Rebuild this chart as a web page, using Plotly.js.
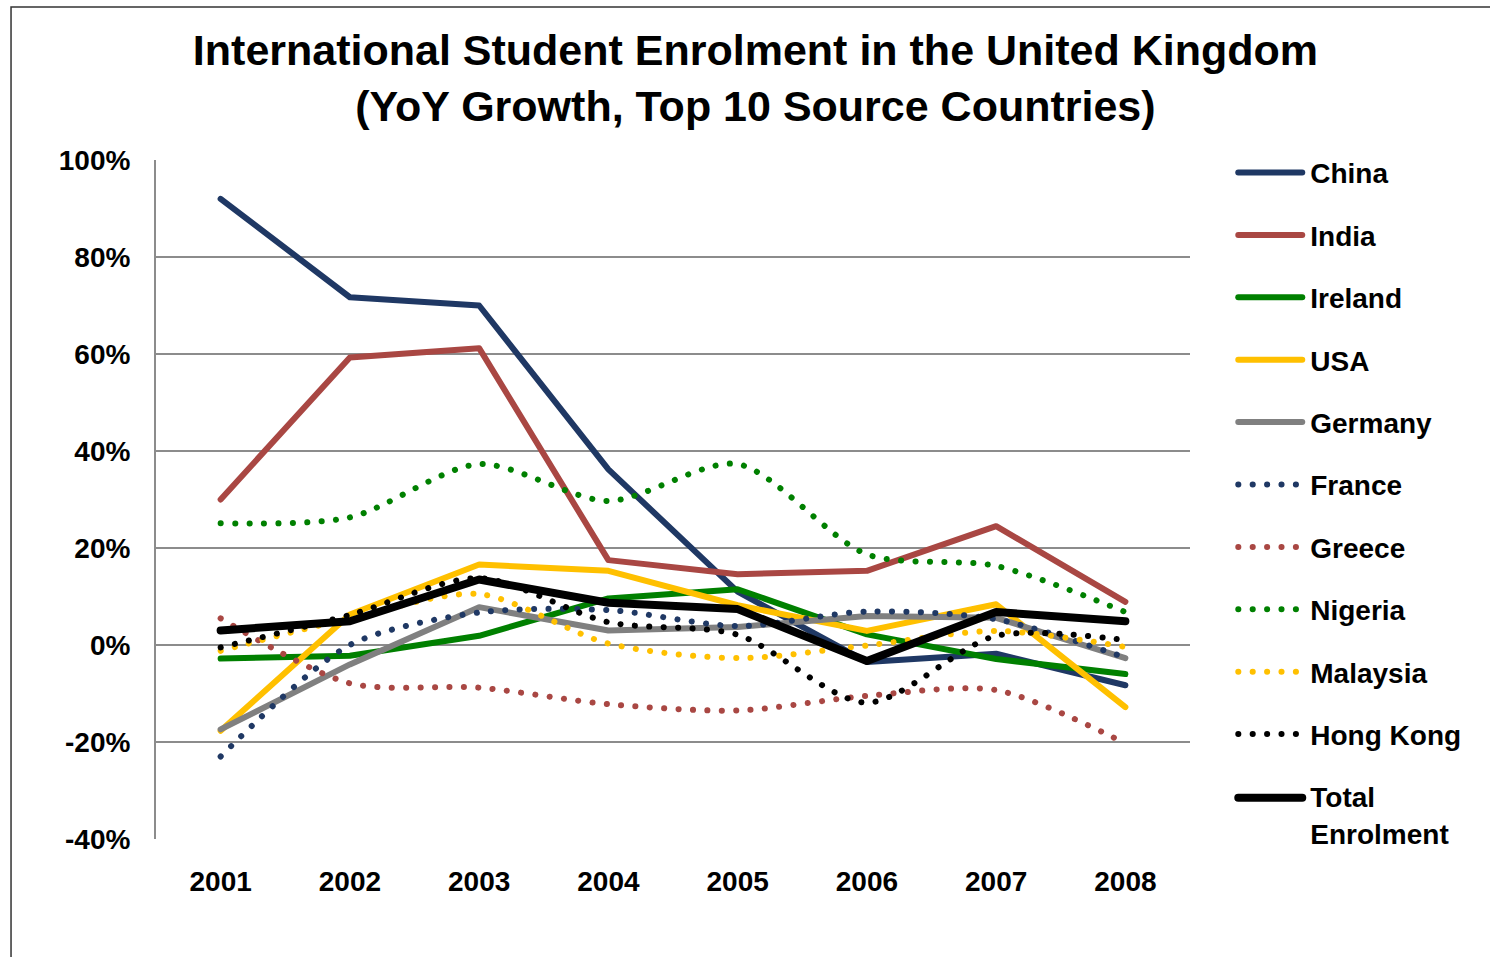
<!DOCTYPE html>
<html>
<head>
<meta charset="utf-8">
<script src="https://cdn.plot.ly/plotly-3.0.1.min.js"></script>
<style>
  html, body { margin: 0; padding: 0; background: #ffffff; }
  #chart { width: 1490px; height: 957px; }
  .js-line { stroke-linecap: round !important; stroke-linejoin: round !important; }
</style>
</head>
<body>
<div id="chart"></div>
<script>
const years = ['2001', '2002', '2003', '2004', '2005', '2006', '2007', '2008'];

const china    = [92.0, 71.7, 70.0, 36.2, 11.0, -3.5, -1.8, -8.3];
const india    = [30.0, 59.3, 61.2, 17.5, 14.6, 15.3, 24.5, 8.9];
const ireland  = [-2.8, -2.2, 1.9, 9.6, 11.5, 2.2, -2.9, -6.0];
const usa      = [-17.7, 6.3, 16.6, 15.3, 8.2, 2.9, 8.4, -12.8];
const germany  = [-17.4, -4.0, 7.8, 3.0, 3.7, 6.0, 5.6, -2.7];
const france   = [-23.0, 0.0, 6.7, 7.2, 3.9, 6.9, 5.3, -2.6];
const greece   = [5.5, -7.9, -8.8, -12.2, -13.5, -10.5, -9.3, -20.3];
const nigeria  = [25.1, 26.3, 37.3, 29.7, 37.3, 18.7, 16.3, 6.8];
const malaysia = [-1.2, 5.5, 10.5, 0.3, -2.7, -0.1, 2.9, -0.4];
const hongkong = [-0.5, 6.2, 13.8, 4.7, 2.1, -11.9, 1.9, 1.0];
const total    = [3.0, 4.9, 13.5, 8.7, 7.4, -3.3, 6.8, 4.9];

const yTickVals = [-40, -20, 0, 20, 40, 60, 80, 100];
const yTickText = ['-40%', '-20%', '0%', '20%', '40%', '60%', '80%', '100%'];

const NAVY = '#1F3864', RED = '#A94743', GREEN = '#008000', GOLD = '#FFC000', GREY = '#808080', BLACK = '#000000';
const DOT = '0.1px,14.3px';

function solid(name, y, color, width) {
  return { type: 'scatter', mode: 'lines', name: name, x: years, y: y, legendgroup: name,
           line: { color: color, width: width || 6, shape: 'linear' }, hoverinfo: 'x+y+name' };
}
function dotted(name, y, color) {
  return { type: 'scatter', mode: 'lines', name: name, x: years, y: y, legendgroup: name,
           line: { color: color, width: 6, dash: DOT, shape: 'spline', smoothing: 0.8 }, hoverinfo: 'x+y+name' };
}

const traces = [
  solid('China', china, NAVY),
  solid('India', india, RED),
  solid('Ireland', ireland, GREEN),
  solid('USA', usa, GOLD),
  solid('Germany', germany, GREY),
  dotted('France', france, NAVY),
  dotted('Greece', greece, RED),
  dotted('Nigeria', nigeria, GREEN),
  dotted('Malaysia', malaysia, GOLD),
  dotted('Hong Kong', hongkong, BLACK),
  solid('Total<br>Enrolment', total, BLACK, 8)
];

const FONT = 'Liberation Sans, Arial, sans-serif';

const layout = {
  width: 1490, height: 957,
  paper_bgcolor: '#ffffff', plot_bgcolor: '#ffffff',
  margin: { l: 156, r: 300, t: 160, b: 118 },
  font: { family: FONT, color: '#000000' },
  title: {
    text: 'International Student Enrolment in the United Kingdom<br>(YoY Growth, Top 10 Source Countries)',
    font: { family: FONT, size: 43, weight: 'bold', color: '#000000' },
    x: 0.507, xanchor: 'center', xref: 'container',
    y: 0.932, yanchor: 'middle', yref: 'container'
  },
  xaxis: {
    type: 'category', range: [-0.5, 7.5],
    showgrid: false, zeroline: false, showline: false, ticks: '',
    tickfont: { family: FONT, size: 28, weight: 'bold', color: '#000000' },
    ticklabelstandoff: 23, fixedrange: true
  },
  yaxis: {
    range: [-40, 100], tickmode: 'array', tickvals: yTickVals, ticktext: yTickText,
    showgrid: true, gridcolor: '#8C8C8C', gridwidth: 2,
    zeroline: false, showline: true, linecolor: '#8C8C8C', linewidth: 2,
    ticks: '', tickfont: { family: FONT, size: 28, weight: 'bold', color: '#000000' },
    ticklabelstandoff: 18, fixedrange: true
  },
  legend: {
    x: 1.037, xanchor: 'left', y: 1.018, yanchor: 'top',
    font: { family: FONT, size: 28, weight: 'bold', color: '#000000' },
    traceorder: 'grouped', tracegroupgap: 23, itemwidth: 72,
    maxheight: 950,
    bgcolor: 'rgba(0,0,0,0)', borderwidth: 0
  },
  shapes: [
    { type: 'rect', xref: 'paper', yref: 'paper',
      x0: -0.1402, x1: 1.30, y0: -0.19, y1: 1.2253,
      line: { color: '#333333', width: 1.5 }, fillcolor: 'rgba(0,0,0,0)', layer: 'below' }
  ],
  showlegend: true
};

Plotly.newPlot('chart', traces, layout, { displayModeBar: false, staticPlot: true }).then(function (gd) {
  // lengthen the legend key samples to match the reference; the two-line
  // "Total Enrolment" key sits beside its first line of text
  const paths = document.querySelectorAll('.legend .traces .js-line');
  paths.forEach(function (p, i) {
    p.setAttribute('d', i === paths.length - 1 ? 'M10,-17h64' : 'M10,0h64');
  });
});
</script>
</body>
</html>
